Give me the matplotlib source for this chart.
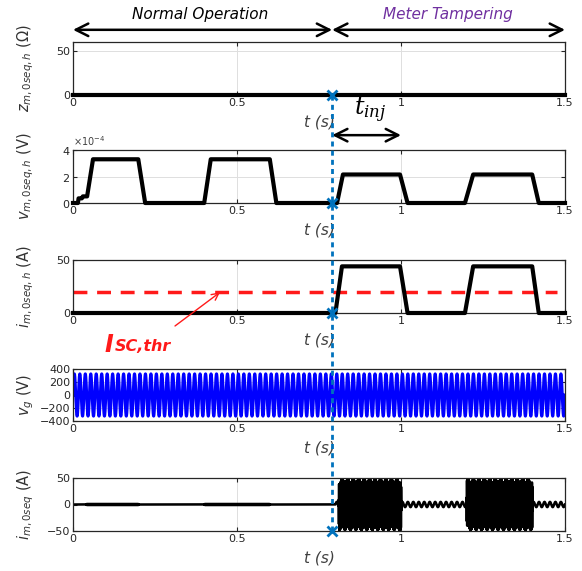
import numpy as np
import matplotlib
matplotlib.use("Agg")
import matplotlib.pyplot as plt
from matplotlib.ticker import ScalarFormatter
from matplotlib.lines import Line2D

# ---------------- data ----------------
t_tamper = 0.79            # start of meter tampering (s)
t_end = 1.5

# impedance z_m,0seq,h (Ohm) : flat zero
z_t = [0.0, 1.5]
z_val = [0.0, 0.0]

# harmonic zero-seq voltage v_m,0seq,h (V)
v_t = [0.0, 0.015, 0.017, 0.027, 0.030, 0.043, 0.061, 0.199, 0.220, 0.400, 0.420,
       0.600, 0.620, 0.805, 0.823, 0.997, 1.020, 1.195, 1.220, 1.400, 1.420, 1.5]
v_val = [0.0, 0.0, 0.35e-4, 0.35e-4, 0.5e-4, 0.5e-4, 3.3e-4, 3.3e-4, 0.0, 0.0, 3.3e-4,
         3.3e-4, 0.0, 0.0, 2.15e-4, 2.15e-4, 0.0, 0.0, 2.15e-4, 2.15e-4, 0.0, 0.0]

# harmonic zero-seq current i_m,0seq,h (A)
i_t = [0.0, 0.800, 0.820, 0.997, 1.020, 1.195, 1.220, 1.400, 1.420, 1.5]
i_val = [0.0, 0.0, 44.0, 44.0, 0.0, 0.0, 44.0, 44.0, 0.0, 0.0]
i_thr = 20.0

# grid voltage v_g
vg_amp = 325.0
vg_freq = 60.0

# zero-seq current i_m,0seq : envelope breakpoints of injected component
inj_t = [0.0, 0.04, 0.041, 0.20, 0.201, 0.40, 0.401, 0.60, 0.601, 0.81, 0.811,
         1.000, 1.001, 1.200, 1.201, 1.400, 1.401, 1.5]
inj_amp = [0.0, 0.0, 0.8, 0.8, 0.0, 0.0, 0.8, 0.8, 0.0, 0.0, 43.0,
           43.0, 0.0, 0.0, 43.0, 43.0, 0.0, 0.0]
inj_freq = 1000.0
fund_t = [0.0, 0.80, 0.801, 1.5]
fund_amp = [0.0, 0.0, 5.0, 5.0]

xticks = [0, 0.5, 1, 1.5]
xtick_labels = ["0", "0.5", "1", "1.5"]

# ---------------- figure ----------------
plt.rcParams['font.family'] = ['DejaVu Sans']
plt.rcParams['mathtext.fontset'] = 'dejavusans'

W, H = 582, 571
fig = plt.figure(figsize=(W / 100, H / 100), dpi=100)

left = 73 / W
width = 492 / W
panels_px = [(42, 95), (150, 203), (260, 313), (369, 421), (478, 531)]
axes = []
for top, bot in panels_px:
    ax = fig.add_axes([left, 1 - bot / H, width, (bot - top) / H])
    axes.append(ax)

tick_col = '#262626'
for ax in axes:
    ax.set_xlim(0, t_end)
    ax.set_xticks(xticks)
    ax.set_xticklabels(xtick_labels)
    ax.tick_params(direction='in', top=True, right=True, length=3, width=0.8,
                   labelsize=8, colors=tick_col, pad=2)
    ax.grid(True, color='#dedede', lw=0.7)
    ax.set_axisbelow(True)
    for s in ax.spines.values():
        s.set_color(tick_col)
        s.set_linewidth(0.9)
    ax.set_xlabel('t (s)', fontsize=11, style='italic', color='#404040', labelpad=5)

ylab_kw = dict(fontsize=10.5, color='#333333')

# panel 1
ax = axes[0]
ax.plot(z_t, z_val, color='k', lw=3, clip_on=False, zorder=3)
ax.set_ylim(0, 60)
ax.set_yticks([0, 50])
ax.set_ylabel(r'$z_{m,0seq,h}$ $(\Omega)$', **ylab_kw)

# panel 2
ax = axes[1]
ax.plot(v_t, v_val, color='k', lw=3, clip_on=False, zorder=3)
ax.set_ylim(0, 4e-4)
ax.set_yticks([0, 2e-4, 4e-4])
fmt = ScalarFormatter(useMathText=True)
fmt.set_powerlimits((-3, 3))
ax.yaxis.set_major_formatter(fmt)
ax.yaxis.get_offset_text().set_fontsize(7)
ax.yaxis.get_offset_text().set_color('#404040')
ax.set_ylabel(r'$v_{m,0seq,h}$ (V)', **ylab_kw)

# panel 3
ax = axes[2]
ax.plot(i_t, i_val, color='k', lw=3, clip_on=False, zorder=3)
ax.axhline(i_thr, xmin=0.0, xmax=1.476 / 1.5, color='#ff1a1a', lw=2.5,
           dashes=(4, 2.8), zorder=2)
ax.set_ylim(0, 50)
ax.set_yticks([0, 50])
ax.set_ylabel(r'$i_{m,0seq,h}$ (A)', **ylab_kw)

# panel 4
ax = axes[3]
tg = np.linspace(0, t_end, 12001)
vg = vg_amp * np.sin(2 * np.pi * vg_freq * tg)
ax.plot(tg, vg, color='#0000ff', lw=2.2)
ax.set_ylim(-400, 400)
ax.set_yticks([-400, -200, 0, 200, 400])
ax.set_ylabel(r'$v_g$ (V)', **ylab_kw)

# panel 5
ax = axes[4]
th = np.linspace(0, t_end, 60001)
env = np.interp(th, inj_t, inj_amp)
fenv = np.interp(th, fund_t, fund_amp)
i0 = env * np.sin(2 * np.pi * inj_freq * th) + fenv * np.sin(2 * np.pi * vg_freq * th)
ax.plot(th, i0, color='k', lw=1.8)
ax.set_ylim(-50, 50)
ax.set_yticks([-50, 0, 50])
ax.set_ylabel(r'$i_{m,0seq}$ (A)', **ylab_kw)

# align ylabels
for ax in axes:
    ax.yaxis.set_label_coords(-0.075, 0.5)

# ---------------- annotations ----------------
blue = '#0072BD'
# vertical dotted tampering line across panels
x_disp = axes[0].transData.transform((t_tamper, 0))[0]
x_fig = fig.transFigure.inverted().transform((x_disp, 0))[0]
y_top = 1 - 95 / H
y_bot = 1 - 531 / H
fig.add_artist(Line2D([x_fig, x_fig], [y_bot, y_top], color=blue, lw=2,
                      linestyle=(0, (1.8, 1.5)), transform=fig.transFigure, zorder=10))
for k in [0, 1, 2, 4]:
    ax = axes[k]
    ax.plot([t_tamper], [ax.get_ylim()[0]], marker='x', color=blue, ms=7, mew=2,
            clip_on=False, zorder=11)

# top arrows
ax = axes[0]
tr = ax.get_xaxis_transform()
arrow_kw = dict(arrowstyle='<->,head_length=0.9,head_width=0.45', color='k', lw=1.8,
                shrinkA=0, shrinkB=0)
ax.annotate('', xy=(0, 1.23), xytext=(t_tamper, 1.23), xycoords=tr, textcoords=tr,
            arrowprops=arrow_kw, annotation_clip=False)
ax.annotate('', xy=(t_tamper, 1.23), xytext=(t_end, 1.23), xycoords=tr, textcoords=tr,
            arrowprops=arrow_kw, annotation_clip=False)
ax.text(0.387, 1.52, 'Normal Operation', transform=tr, ha='center', va='center',
        fontsize=11, style='italic', color='k')
ax.text(1.143, 1.52, 'Meter Tampering', transform=tr, ha='center', va='center',
        fontsize=11, style='italic', color='#7030A0')

# t_inj arrow
ax = axes[1]
tr = ax.get_xaxis_transform()
ax.annotate('', xy=(t_tamper, 1.28), xytext=(1.0, 1.28), xycoords=tr, textcoords=tr,
            arrowprops=arrow_kw, annotation_clip=False)
ax.text(0.905, 1.75, r'$t_{inj}$', transform=tr, ha='center', va='center',
        fontsize=17, family='DejaVu Serif', math_fontfamily='dejavuserif')

# I_SC,thr annotation
ax = axes[2]
tr = ax.get_xaxis_transform()
ax.annotate('', xy=(0.448, 19.5), xytext=(0.311, -0.245), xycoords='data',
            textcoords=tr,
            arrowprops=dict(arrowstyle='->,head_length=0.5,head_width=0.25',
                            color='#ff1a1a', lw=1.0, shrinkA=0, shrinkB=0),
            annotation_clip=False)
ax.text(0.095, -0.6, 'I', transform=tr, ha='left', va='center', fontsize=17,
        style='italic', weight='bold', color='#ff1a1a')
ax.text(0.128, -0.64, 'SC,thr', transform=tr, ha='left', va='center', fontsize=11.5,
        style='italic', weight='bold', color='#ff1a1a')

fig.savefig('out.png', dpi=100)
